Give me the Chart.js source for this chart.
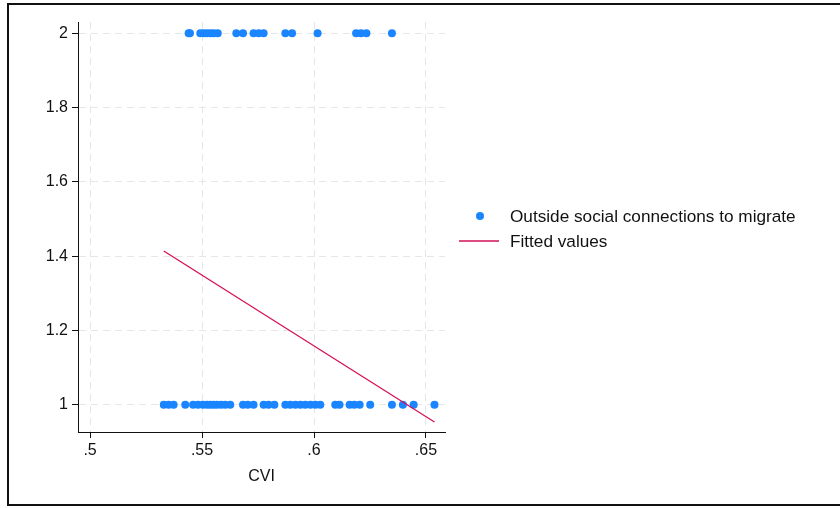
<!DOCTYPE html>
<html>
<head>
<meta charset="utf-8">
<script src="https://cdn.jsdelivr.net/npm/chart.js@4/dist/chart.umd.min.js"></script>
<style>
  html, body { margin: 0; padding: 0; background: #fff; }
  canvas { display: block; }
</style>
</head>
<body>
<canvas id="cviChart" width="840" height="508"></canvas>
<script>
// CVI for respondents with outside social connections to migrate (coded 2)
const cviWithConnections = [
  0.5440, 0.5446, 0.5492, 0.5507, 0.5522, 0.5537, 0.5552, 0.5570,
  0.5653, 0.5683, 0.5730, 0.5753, 0.5775, 0.5872, 0.5902, 0.6016,
  0.6188, 0.6210, 0.6234, 0.6348
];
// CVI for respondents without them (coded 1)
const cviWithoutConnections = [
  0.5329, 0.5351, 0.5373, 0.5425, 0.5460, 0.5482, 0.5504, 0.5522,
  0.5537, 0.5552, 0.5567, 0.5585, 0.5604, 0.5626, 0.5683, 0.5704,
  0.5730, 0.5775, 0.5797, 0.5823, 0.5872, 0.5894, 0.5917, 0.5939,
  0.5961, 0.5984, 0.6006, 0.6028, 0.6095, 0.6114, 0.6159, 0.6180,
  0.6204, 0.6251, 0.6348, 0.6397, 0.6445, 0.6538
];
const fitX = [0.5329, 0.6538];
const fitY = [1.414, 0.954];

const xTicks = [0.5, 0.55, 0.6, 0.65];
const yTicks = [1, 1.2, 1.4, 1.6, 1.8, 2];

const seriesLabels = ['Outside social connections to migrate', 'Fitted values'];

const BLUE = '#1a85ff';
const RED = '#d41159';
const FONT = "'Liberation Sans', Arial, Helvetica, sans-serif";

const points = [
  ...cviWithConnections.map(x => ({x: x, y: 2})),
  ...cviWithoutConnections.map(x => ({x: x, y: 1}))
];
const fitLine = fitX.map((x, i) => ({x: x, y: fitY[i]}));

// drop the leading zero like ".55"
const fmt = v => String(Number(v.toFixed(3))).replace(/^0\./, '.');

const framePlugin = {
  id: 'frame',
  beforeDraw(chart) {
    const ctx = chart.ctx;
    ctx.save();
    ctx.fillStyle = '#fff';
    ctx.fillRect(0, 0, chart.width, chart.height);
    ctx.strokeStyle = '#111';
    ctx.lineWidth = 2;
    ctx.strokeRect(8, 4, chart.width, 501);
    ctx.restore();
  }
};

const legendPlugin = {
  id: 'sideLegend',
  afterDraw(chart) {
    const ctx = chart.ctx;
    ctx.save();
    ctx.font = '17.2px ' + FONT;
    ctx.textBaseline = 'middle';
    ctx.textAlign = 'left';

    ctx.beginPath();
    ctx.arc(480, 216, 4, 0, Math.PI * 2);
    ctx.fillStyle = BLUE;
    ctx.fill();
    ctx.fillStyle = '#111';
    ctx.fillText(seriesLabels[0], 510, 217);

    ctx.beginPath();
    ctx.moveTo(459, 241);
    ctx.lineTo(499, 241);
    ctx.strokeStyle = RED;
    ctx.lineWidth = 1.3;
    ctx.stroke();
    ctx.fillText(seriesLabels[1], 510, 242);
    ctx.restore();
  }
};

const gridDash = [7, 5];

new Chart(document.getElementById('cviChart'), {
  type: 'scatter',
  data: {
    datasets: [
      {
        type: 'line',
        label: seriesLabels[1],
        data: fitLine,
        borderColor: RED,
        borderWidth: 1.3,
        pointRadius: 0,
        fill: false,
        order: 0
      },
      {
        label: seriesLabels[0],
        data: points,
        backgroundColor: BLUE,
        borderWidth: 0,
        pointRadius: 4,
        order: 1
      }
    ]
  },
  options: {
    responsive: false,
    animation: false,
    layout: { padding: { left: 0, top: 22, right: 395, bottom: 0 } },
    plugins: { legend: { display: false }, tooltip: { enabled: false } },
    scales: {
      x: {
        type: 'linear',
        min: 0.4946,
        max: 0.6585,
        afterBuildTicks: s => { s.ticks = xTicks.map(v => ({value: v})); },
        afterFit: s => { s.height = 76; },
        ticks: {
          callback: v => fmt(v),
          color: '#111',
          font: { family: FONT, size: 16 },
          padding: 3,
          maxRotation: 0
        },
        grid: {
          color: '#e6e6e6',
          lineWidth: 1,
          tickColor: '#111',
          tickLength: 6
        },
        border: { display: true, color: '#111', width: 1, dash: gridDash },
        title: {
          display: true,
          text: 'CVI',
          color: '#111',
          font: { family: FONT, size: 16 },
          padding: { top: 0, bottom: 22 }
        }
      },
      y: {
        type: 'linear',
        min: 0.927,
        max: 2.03,
        afterBuildTicks: s => { s.ticks = yTicks.map(v => ({value: v})); },
        afterFit: s => { s.width = 78; },
        ticks: {
          callback: v => fmt(v),
          color: '#111',
          font: { family: FONT, size: 16 },
          padding: 4
        },
        grid: {
          color: '#e6e6e6',
          lineWidth: 1,
          tickColor: '#111',
          tickLength: 6
        },
        border: { display: true, color: '#111', width: 1, dash: gridDash }
      }
    }
  },
  plugins: [framePlugin, legendPlugin]
});
</script>
</body>
</html>
